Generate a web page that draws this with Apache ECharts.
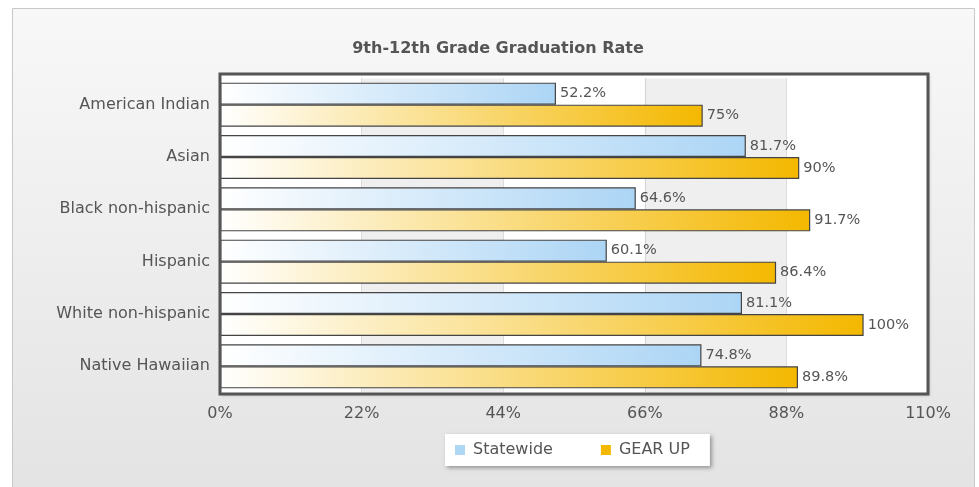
<!DOCTYPE html>
<html>
<head>
<meta charset="utf-8">
<script src="https://cdn.jsdelivr.net/npm/echarts@6/dist/echarts.min.js"></script>
<style>
  html, body { margin: 0; padding: 0; background: #fff; }
  #chart { width: 979px; height: 487px; }
</style>
</head>
<body>
<div id="chart"></div>
<script>
const categories = ['American Indian', 'Asian', 'Black non-hispanic', 'Hispanic', 'White non-hispanic', 'Native Hawaiian'];
const statewide = [52.2, 81.7, 64.6, 60.1, 81.1, 74.8];
const gearUp = [75, 90, 91.7, 86.4, 100, 89.8];
const xTicks = [0, 22, 44, 66, 88, 110];

const chart = echarts.init(document.getElementById('chart'));

function barGradient(endColor) {
  return new echarts.graphic.LinearGradient(0, 0, 1, 0, [
    { offset: 0, color: '#ffffff' },
    { offset: 1, color: endColor }
  ]);
}

const labelStyle = {
  show: true,
  position: 'right',
  distance: 4,
  formatter: '{c}%',
  color: '#555',
  fontSize: 14.5,
  fontFamily: 'DejaVu Sans'
};

// plot frame drawn by hand so the category bands can sit a little inside it
const plot = { x: 220, y: 74, w: 708, h: 320 };

const option = {
  animation: false,
  backgroundColor: '#fff',
  graphic: [
    {
      type: 'rect',
      z: -10,
      shape: { x: 12.5, y: 8.5, width: 962, height: 490 },
      style: {
        fill: new echarts.graphic.LinearGradient(0, 0, 0, 1, [
          { offset: 0, color: '#f8f8f8' },
          { offset: 1, color: '#e3e3e3' }
        ]),
        stroke: '#c8c8c8',
        lineWidth: 1
      }
    },
    {
      type: 'rect',
      z: -5,
      shape: { x: plot.x, y: plot.y, width: plot.w, height: plot.h },
      style: {
        fill: '#fff',
        shadowColor: 'rgba(0,0,0,0.3)',
        shadowBlur: 3,
        shadowOffsetX: 1,
        shadowOffsetY: 1
      }
    },
    {
      type: 'rect',
      z: 100,
      silent: true,
      shape: { x: plot.x, y: plot.y, width: plot.w, height: plot.h },
      style: { fill: null, stroke: '#555', lineWidth: 3 }
    }
  ],
  title: {
    text: '9th-12th Grade Graduation Rate',
    left: 493,
    textAlign: 'center',
    top: 36,
    textStyle: {
      color: '#555',
      fontSize: 16,
      fontWeight: 'bold',
      fontFamily: 'DejaVu Sans'
    }
  },
  legend: {
    left: 445,
    top: 434,
    backgroundColor: '#fff',
    shadowColor: 'rgba(0,0,0,0.35)',
    shadowBlur: 4,
    shadowOffsetX: 2,
    shadowOffsetY: 2,
    padding: [8, 20, 8, 10],
    itemGap: 48,
    itemWidth: 10,
    itemHeight: 10,
    icon: 'rect',
    textStyle: { color: '#555', fontSize: 16, fontFamily: 'DejaVu Sans', padding: [0, 0, 0, 3] },
    data: [
      { name: 'Statewide', itemStyle: { color: '#aed6f5', borderWidth: 0 } },
      { name: 'GEAR UP', itemStyle: { color: '#f5b800', borderWidth: 0 } }
    ]
  },
  grid: {
    left: plot.x,
    right: 979 - plot.x - plot.w,
    top: 78.5,
    bottom: 94.5
  },
  xAxis: {
    type: 'value',
    min: xTicks[0],
    max: xTicks[xTicks.length - 1],
    interval: 22,
    axisLine: { show: false },
    axisTick: { show: false },
    axisLabel: {
      formatter: '{value}%',
      color: '#555',
      fontSize: 16,
      fontFamily: 'DejaVu Sans',
      margin: 13
    },
    splitLine: { show: true, lineStyle: { color: '#bbb', type: 'dotted', width: 1 } },
    splitArea: { show: true, areaStyle: { color: ['#ffffff', '#efefef'] } }
  },
  yAxis: {
    type: 'category',
    data: categories,
    inverse: true,
    axisLine: { show: false },
    axisTick: { show: false },
    axisLabel: {
      color: '#555',
      fontSize: 16,
      fontFamily: 'DejaVu Sans',
      margin: 10
    }
  },
  series: [
    {
      name: 'Statewide',
      type: 'bar',
      data: statewide,
      barWidth: 22,
      barGap: '0%',
      itemStyle: { color: barGradient('#acd5f5'), borderColor: '#444', borderWidth: 1.2 },
      label: labelStyle
    },
    {
      name: 'GEAR UP',
      type: 'bar',
      data: gearUp,
      barWidth: 22,
      barGap: '0%',
      itemStyle: { color: barGradient('#f4b800'), borderColor: '#444', borderWidth: 1.2 },
      label: labelStyle
    }
  ]
};

chart.setOption(option);
</script>
</body>
</html>
